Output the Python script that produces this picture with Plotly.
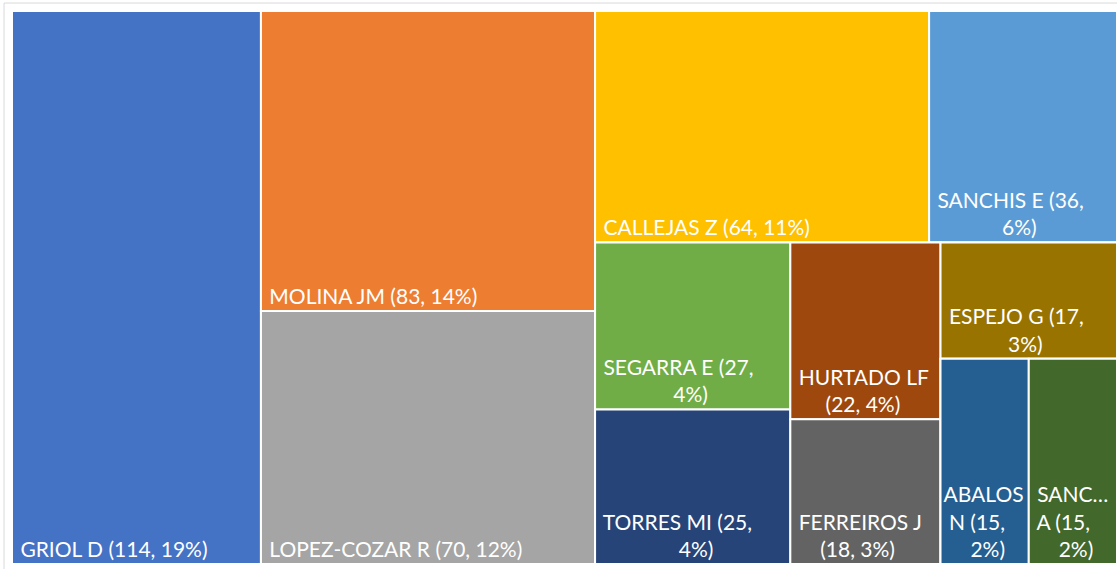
import plotly.graph_objects as go

# Leaf data
names = ["GRIOL D", "MOLINA JM", "LOPEZ-COZAR R", "CALLEJAS Z", "SANCHIS E",
         "SEGARRA E", "TORRES MI", "HURTADO LF", "FERREIROS J", "ESPEJO G",
         "ABALOS N", "SANC… A"]
counts = [114, 83, 70, 64, 36, 27, 25, 22, 18, 17, 15, 15]
percents = [19, 14, 12, 11, 6, 4, 4, 4, 3, 3, 2, 2]
colors = ["#4472C4", "#ED7D31", "#A5A5A5", "#FFC000", "#5B9BD5", "#70AD47",
          "#264478", "#9E480E", "#636363", "#997300", "#255E91", "#43682B"]
# Layout grouping (mimics the spreadsheet tile arrangement)
leaf_parent = ["root", "g1", "g1", "top", "top", "c1", "c1", "c2", "c2", "c3", "d", "d"]
# Wrapped display lines and per-line indent (in no-break spaces) to centre lines
display_lines = [
    ["GRIOL D (114, 19%)"],
    ["MOLINA JM (83, 14%)"],
    ["LOPEZ-COZAR R (70, 12%)"],
    ["CALLEJAS Z (64, 11%)"],
    ["SANCHIS E (36,", "6%)"],
    ["SEGARRA E (27,", "4%)"],
    ["TORRES MI (25,", "4%)"],
    ["HURTADO LF", "(22, 4%)"],
    ["FERREIROS J", "(18, 3%)"],
    ["ESPEJO G (17,", "3%)"],
    ["ABALOS", "N (15,", "2%)"],
    ["SANC…", "A (15,", "2%)"],
]
indents = [[1], [1], [1], [1], [1, 13], [1, 14], [1, 15], [1, 6], [1, 5],
           [1, 12], [0, 1, 5], [1, 1, 5]]

NB = "\u00a0"
display = ["<br>".join(NB * n + ln for ln, n in zip(lines, ind))
           for lines, ind in zip(display_lines, indents)]

groups = {"root": "", "g1": "root", "right": "root", "top": "right", "bottom": "right",
          "c1": "bottom", "c2": "bottom", "c3": "bottom", "d": "c3"}

# Node order controls sibling order (sort disabled)
order = ["root", 0, "g1", 1, 2, "right", "top", 3, 4, "bottom", "c1", 5, 6,
         "c2", 7, 8, "c3", 9, "d", 10, 11]

ids, labels, parents, values, texts, mcolors = [], [], [], [], [], []
for o in order:
    if isinstance(o, str):
        ids.append(o); labels.append(""); parents.append(groups[o])
        values.append(0); texts.append(""); mcolors.append("#FFFFFF")
    else:
        ids.append(names[o]); labels.append(names[o]); parents.append(leaf_parent[o])
        values.append(counts[o]); texts.append(display[o]); mcolors.append(colors[o])

fig = go.Figure(go.Treemap(
    ids=ids, labels=labels, parents=parents, values=values,
    branchvalues="remainder", sort=False,
    tiling=dict(packing="slice-dice", pad=0),
    marker=dict(colors=mcolors, line=dict(color="white", width=2),
                pad=dict(t=0, l=0, r=0, b=0), depthfade=False),
    text=texts, texttemplate="%{text}", textposition="bottom left",
    textfont=dict(family="Lato", size=21, color="white"),
    pathbar=dict(visible=False),
    hoverinfo="skip",
))

fig.update_layout(
    width=1117, height=569,
    margin=dict(l=12, r=0, t=11, b=5),
    paper_bgcolor="white",
    uniformtext=dict(minsize=21, mode="show"),
    shapes=[dict(type="rect", xref="paper", yref="paper",
                 x0=-0.0072, x1=1.05, y0=-0.05, y1=1.0144,
                 line=dict(color="#D9D9D9", width=1), fillcolor="rgba(0,0,0,0)",
                 layer="below")],
)

fig.write_html("out.html",
               config={"displayModeBar": False},
               post_script="document.body.style.margin='0';"
                           "document.body.style.overflow='hidden';")
